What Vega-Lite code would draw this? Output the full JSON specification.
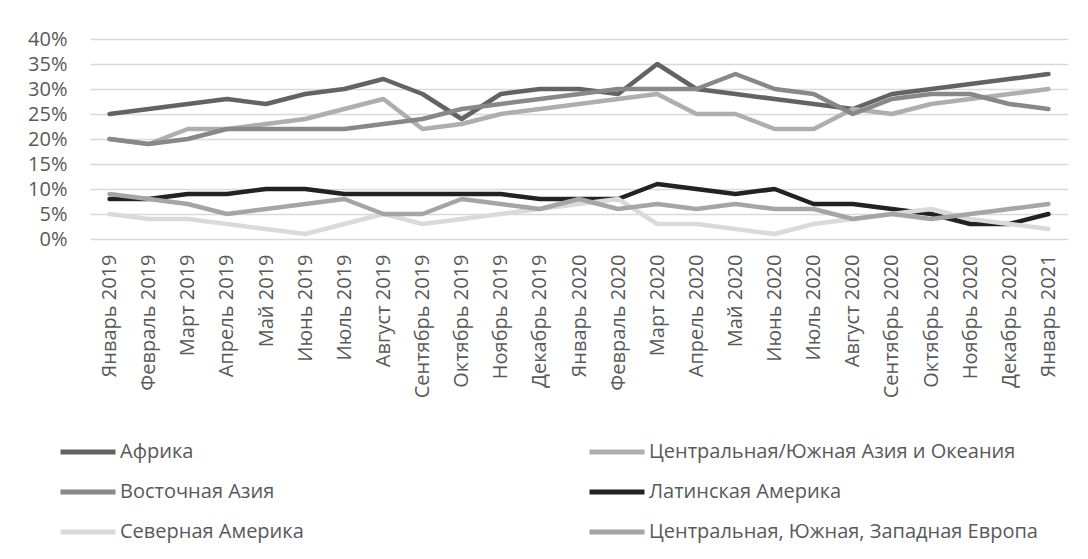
{
  "$schema": "https://vega.github.io/schema/vega-lite/v6.json",
  "width": 978,
  "height": 200,
  "autosize": {"type": "none"},
  "padding": {"left": 90, "top": 39, "right": 20, "bottom": 320},
  "background": "white",
  "config": {"view": {"stroke": null}, "font": "Open Sans"},
  "data": {"values": [
    {"month":"Январь 2019","region":"Африка","value":25},{"month":"Февраль 2019","region":"Африка","value":26},{"month":"Март 2019","region":"Африка","value":27},{"month":"Апрель 2019","region":"Африка","value":28},{"month":"Май 2019","region":"Африка","value":27},{"month":"Июнь 2019","region":"Африка","value":29},{"month":"Июль 2019","region":"Африка","value":30},{"month":"Август 2019","region":"Африка","value":32},{"month":"Сентябрь 2019","region":"Африка","value":29},{"month":"Октябрь 2019","region":"Африка","value":24},{"month":"Ноябрь 2019","region":"Африка","value":29},{"month":"Декабрь 2019","region":"Африка","value":30},{"month":"Январь 2020","region":"Африка","value":30},{"month":"Февраль 2020","region":"Африка","value":29},{"month":"Март 2020","region":"Африка","value":35},{"month":"Апрель 2020","region":"Африка","value":30},{"month":"Май 2020","region":"Африка","value":29},{"month":"Июнь 2020","region":"Африка","value":28},{"month":"Июль 2020","region":"Африка","value":27},{"month":"Август 2020","region":"Африка","value":26},{"month":"Сентябрь 2020","region":"Африка","value":29},{"month":"Октябрь 2020","region":"Африка","value":30},{"month":"Ноябрь 2020","region":"Африка","value":31},{"month":"Декабрь 2020","region":"Африка","value":32},{"month":"Январь 2021","region":"Африка","value":33},

    {"month":"Январь 2019","region":"Центральная/Южная Азия и Океания","value":20},{"month":"Февраль 2019","region":"Центральная/Южная Азия и Океания","value":19},{"month":"Март 2019","region":"Центральная/Южная Азия и Океания","value":22},{"month":"Апрель 2019","region":"Центральная/Южная Азия и Океания","value":22},{"month":"Май 2019","region":"Центральная/Южная Азия и Океания","value":23},{"month":"Июнь 2019","region":"Центральная/Южная Азия и Океания","value":24},{"month":"Июль 2019","region":"Центральная/Южная Азия и Океания","value":26},{"month":"Август 2019","region":"Центральная/Южная Азия и Океания","value":28},{"month":"Сентябрь 2019","region":"Центральная/Южная Азия и Океания","value":22},{"month":"Октябрь 2019","region":"Центральная/Южная Азия и Океания","value":23},{"month":"Ноябрь 2019","region":"Центральная/Южная Азия и Океания","value":25},{"month":"Декабрь 2019","region":"Центральная/Южная Азия и Океания","value":26},{"month":"Январь 2020","region":"Центральная/Южная Азия и Океания","value":27},{"month":"Февраль 2020","region":"Центральная/Южная Азия и Океания","value":28},{"month":"Март 2020","region":"Центральная/Южная Азия и Океания","value":29},{"month":"Апрель 2020","region":"Центральная/Южная Азия и Океания","value":25},{"month":"Май 2020","region":"Центральная/Южная Азия и Океания","value":25},{"month":"Июнь 2020","region":"Центральная/Южная Азия и Океания","value":22},{"month":"Июль 2020","region":"Центральная/Южная Азия и Океания","value":22},{"month":"Август 2020","region":"Центральная/Южная Азия и Океания","value":26},{"month":"Сентябрь 2020","region":"Центральная/Южная Азия и Океания","value":25},{"month":"Октябрь 2020","region":"Центральная/Южная Азия и Океания","value":27},{"month":"Ноябрь 2020","region":"Центральная/Южная Азия и Океания","value":28},{"month":"Декабрь 2020","region":"Центральная/Южная Азия и Океания","value":29},{"month":"Январь 2021","region":"Центральная/Южная Азия и Океания","value":30},

    {"month":"Январь 2019","region":"Восточная Азия","value":20},{"month":"Февраль 2019","region":"Восточная Азия","value":19},{"month":"Март 2019","region":"Восточная Азия","value":20},{"month":"Апрель 2019","region":"Восточная Азия","value":22},{"month":"Май 2019","region":"Восточная Азия","value":22},{"month":"Июнь 2019","region":"Восточная Азия","value":22},{"month":"Июль 2019","region":"Восточная Азия","value":22},{"month":"Август 2019","region":"Восточная Азия","value":23},{"month":"Сентябрь 2019","region":"Восточная Азия","value":24},{"month":"Октябрь 2019","region":"Восточная Азия","value":26},{"month":"Ноябрь 2019","region":"Восточная Азия","value":27},{"month":"Декабрь 2019","region":"Восточная Азия","value":28},{"month":"Январь 2020","region":"Восточная Азия","value":29},{"month":"Февраль 2020","region":"Восточная Азия","value":30},{"month":"Март 2020","region":"Восточная Азия","value":30},{"month":"Апрель 2020","region":"Восточная Азия","value":30},{"month":"Май 2020","region":"Восточная Азия","value":33},{"month":"Июнь 2020","region":"Восточная Азия","value":30},{"month":"Июль 2020","region":"Восточная Азия","value":29},{"month":"Август 2020","region":"Восточная Азия","value":25},{"month":"Сентябрь 2020","region":"Восточная Азия","value":28},{"month":"Октябрь 2020","region":"Восточная Азия","value":29},{"month":"Ноябрь 2020","region":"Восточная Азия","value":29},{"month":"Декабрь 2020","region":"Восточная Азия","value":27},{"month":"Январь 2021","region":"Восточная Азия","value":26},

    {"month":"Январь 2019","region":"Латинская Америка","value":8},{"month":"Февраль 2019","region":"Латинская Америка","value":8},{"month":"Март 2019","region":"Латинская Америка","value":9},{"month":"Апрель 2019","region":"Латинская Америка","value":9},{"month":"Май 2019","region":"Латинская Америка","value":10},{"month":"Июнь 2019","region":"Латинская Америка","value":10},{"month":"Июль 2019","region":"Латинская Америка","value":9},{"month":"Август 2019","region":"Латинская Америка","value":9},{"month":"Сентябрь 2019","region":"Латинская Америка","value":9},{"month":"Октябрь 2019","region":"Латинская Америка","value":9},{"month":"Ноябрь 2019","region":"Латинская Америка","value":9},{"month":"Декабрь 2019","region":"Латинская Америка","value":8},{"month":"Январь 2020","region":"Латинская Америка","value":8},{"month":"Февраль 2020","region":"Латинская Америка","value":8},{"month":"Март 2020","region":"Латинская Америка","value":11},{"month":"Апрель 2020","region":"Латинская Америка","value":10},{"month":"Май 2020","region":"Латинская Америка","value":9},{"month":"Июнь 2020","region":"Латинская Америка","value":10},{"month":"Июль 2020","region":"Латинская Америка","value":7},{"month":"Август 2020","region":"Латинская Америка","value":7},{"month":"Сентябрь 2020","region":"Латинская Америка","value":6},{"month":"Октябрь 2020","region":"Латинская Америка","value":5},{"month":"Ноябрь 2020","region":"Латинская Америка","value":3},{"month":"Декабрь 2020","region":"Латинская Америка","value":3},{"month":"Январь 2021","region":"Латинская Америка","value":5},

    {"month":"Январь 2019","region":"Северная Америка","value":5},{"month":"Февраль 2019","region":"Северная Америка","value":4},{"month":"Март 2019","region":"Северная Америка","value":4},{"month":"Апрель 2019","region":"Северная Америка","value":3},{"month":"Май 2019","region":"Северная Америка","value":2},{"month":"Июнь 2019","region":"Северная Америка","value":1},{"month":"Июль 2019","region":"Северная Америка","value":3},{"month":"Август 2019","region":"Северная Америка","value":5},{"month":"Сентябрь 2019","region":"Северная Америка","value":3},{"month":"Октябрь 2019","region":"Северная Америка","value":4},{"month":"Ноябрь 2019","region":"Северная Америка","value":5},{"month":"Декабрь 2019","region":"Северная Америка","value":6},{"month":"Январь 2020","region":"Северная Америка","value":7},{"month":"Февраль 2020","region":"Северная Америка","value":8},{"month":"Март 2020","region":"Северная Америка","value":3},{"month":"Апрель 2020","region":"Северная Америка","value":3},{"month":"Май 2020","region":"Северная Америка","value":2},{"month":"Июнь 2020","region":"Северная Америка","value":1},{"month":"Июль 2020","region":"Северная Америка","value":3},{"month":"Август 2020","region":"Северная Америка","value":4},{"month":"Сентябрь 2020","region":"Северная Америка","value":5},{"month":"Октябрь 2020","region":"Северная Америка","value":6},{"month":"Ноябрь 2020","region":"Северная Америка","value":4},{"month":"Декабрь 2020","region":"Северная Америка","value":3},{"month":"Январь 2021","region":"Северная Америка","value":2},

    {"month":"Январь 2019","region":"Центральная, Южная, Западная Европа","value":9},{"month":"Февраль 2019","region":"Центральная, Южная, Западная Европа","value":8},{"month":"Март 2019","region":"Центральная, Южная, Западная Европа","value":7},{"month":"Апрель 2019","region":"Центральная, Южная, Западная Европа","value":5},{"month":"Май 2019","region":"Центральная, Южная, Западная Европа","value":6},{"month":"Июнь 2019","region":"Центральная, Южная, Западная Европа","value":7},{"month":"Июль 2019","region":"Центральная, Южная, Западная Европа","value":8},{"month":"Август 2019","region":"Центральная, Южная, Западная Европа","value":5},{"month":"Сентябрь 2019","region":"Центральная, Южная, Западная Европа","value":5},{"month":"Октябрь 2019","region":"Центральная, Южная, Западная Европа","value":8},{"month":"Ноябрь 2019","region":"Центральная, Южная, Западная Европа","value":7},{"month":"Декабрь 2019","region":"Центральная, Южная, Западная Европа","value":6},{"month":"Январь 2020","region":"Центральная, Южная, Западная Европа","value":8},{"month":"Февраль 2020","region":"Центральная, Южная, Западная Европа","value":6},{"month":"Март 2020","region":"Центральная, Южная, Западная Европа","value":7},{"month":"Апрель 2020","region":"Центральная, Южная, Западная Европа","value":6},{"month":"Май 2020","region":"Центральная, Южная, Западная Европа","value":7},{"month":"Июнь 2020","region":"Центральная, Южная, Западная Европа","value":6},{"month":"Июль 2020","region":"Центральная, Южная, Западная Европа","value":6},{"month":"Август 2020","region":"Центральная, Южная, Западная Европа","value":4},{"month":"Сентябрь 2020","region":"Центральная, Южная, Западная Европа","value":5},{"month":"Октябрь 2020","region":"Центральная, Южная, Западная Европа","value":4},{"month":"Ноябрь 2020","region":"Центральная, Южная, Западная Европа","value":5},{"month":"Декабрь 2020","region":"Центральная, Южная, Западная Европа","value":6},{"month":"Январь 2021","region":"Центральная, Южная, Западная Европа","value":7}
  ]},
  "mark": {"type": "line", "strokeWidth": 4.5, "strokeCap": "round", "strokeJoin": "round"},
  "encoding": {
    "x": {
      "field": "month", "type": "ordinal", "sort": null,
      "scale": {"type": "point", "padding": 0.5},
      "axis": {"title": null, "labelAngle": -90, "labelFontSize": 20, "labelColor": "#595959", "labelPadding": 15, "ticks": false, "domain": false, "grid": false}
    },
    "y": {
      "field": "value", "type": "quantitative",
      "scale": {"domain": [0, 40], "nice": false},
      "axis": {"title": null, "values": [0, 5, 10, 15, 20, 25, 30, 35, 40], "labelExpr": "datum.value + '%'", "gridColor": "#D9D9D9", "gridWidth": 1.3, "domain": false, "ticks": false, "tickSize": 0, "labelPadding": 23, "labelFontSize": 20, "labelColor": "#595959"}
    },
    "color": {
      "field": "region", "type": "nominal",
      "scale": {
        "domain": ["Африка", "Центральная/Южная Азия и Океания", "Восточная Азия", "Латинская Америка", "Северная Америка", "Центральная, Южная, Западная Европа"],
        "range": ["#636363", "#AEAEAE", "#888888", "#222222", "#DADADA", "#A5A5A5"]
      },
      "legend": {
        "title": null, "orient": "none", "legendX": -32, "legendY": 403, "padding": 0,
        "columns": 2, "direction": "horizontal", "gridAlign": "all", "columnPadding": 78, "rowPadding": 20, "clipHeight": 20,
        "symbolType": "stroke", "symbolSize": 3025, "symbolStrokeWidth": 5, "labelOffset": 2,
        "labelFontSize": 20, "labelColor": "#595959", "labelLimit": 600
      }
    }
  }
}
